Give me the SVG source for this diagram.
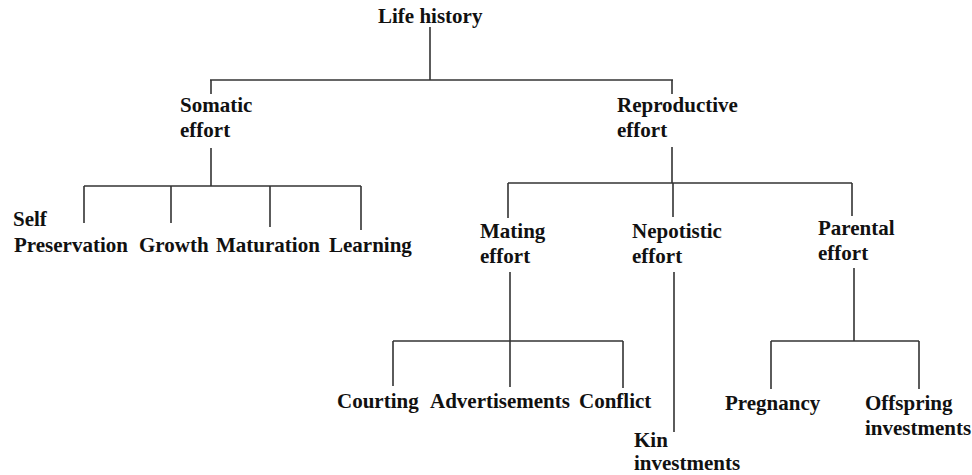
<svg xmlns="http://www.w3.org/2000/svg" width="972" height="475" viewBox="0 0 972 475">
<style>
.t{font-family:"Liberation Serif","Times New Roman",serif;font-weight:bold;font-size:21px;fill:#111}
.c line{stroke:#333;stroke-width:1.6}
</style>
<rect width="972" height="475" fill="#fff"/>
<g id="connectors" class="c">
<line x1="430" y1="27" x2="430" y2="80"/>
<line x1="210" y1="80" x2="673" y2="80"/>
<line x1="211" y1="80" x2="211" y2="94"/>
<line x1="672" y1="80" x2="672" y2="94"/>
<line x1="211" y1="148" x2="211" y2="186"/>
<line x1="84" y1="186" x2="361" y2="186"/>
<line x1="84" y1="186" x2="84" y2="223"/>
<line x1="171" y1="186" x2="171" y2="223"/>
<line x1="270" y1="186" x2="270" y2="227"/>
<line x1="361" y1="186" x2="361" y2="230"/>
<line x1="672" y1="147" x2="672" y2="183"/>
<line x1="508" y1="183" x2="852" y2="183"/>
<line x1="508" y1="183" x2="508" y2="218"/>
<line x1="673" y1="183" x2="673" y2="217"/>
<line x1="852" y1="183" x2="852" y2="216"/>
<line x1="510" y1="272" x2="510" y2="387"/>
<line x1="393" y1="341" x2="623" y2="341"/>
<line x1="393" y1="341" x2="393" y2="386"/>
<line x1="623" y1="341" x2="623" y2="388"/>
<line x1="674" y1="272" x2="674" y2="432"/>
<line x1="854" y1="268" x2="854" y2="341"/>
<line x1="771" y1="341" x2="919" y2="341"/>
<line x1="771" y1="341" x2="771" y2="389"/>
<line x1="919" y1="341" x2="919" y2="389"/>
</g>
<g id="life-history"><text class="t" x="378" y="23">Life history</text></g>
<g id="somatic-effort"><text class="t" x="180" y="112">Somatic</text><text class="t" x="180" y="137">effort</text></g>
<g id="reproductive-effort"><text class="t" x="617" y="112">Reproductive</text><text class="t" x="617" y="137">effort</text></g>
<g id="self-preservation"><text class="t" x="13" y="226">Self</text><text class="t" x="14" y="252">Preservation</text></g>
<g id="growth"><text class="t" x="139" y="252">Growth</text></g>
<g id="maturation"><text class="t" x="216" y="252">Maturation</text></g>
<g id="learning"><text class="t" x="329" y="252">Learning</text></g>
<g id="mating-effort"><text class="t" x="480" y="238">Mating</text><text class="t" x="480" y="263">effort</text></g>
<g id="nepotistic-effort"><text class="t" x="632" y="238">Nepotistic</text><text class="t" x="632" y="263">effort</text></g>
<g id="parental-effort"><text class="t" x="818" y="235">Parental</text><text class="t" x="818" y="260">effort</text></g>
<g id="courting"><text class="t" x="337" y="408">Courting</text></g>
<g id="advertisements"><text class="t" x="430" y="408">Advertisements</text></g>
<g id="conflict"><text class="t" x="579" y="408">Conflict</text></g>
<g id="kin-investments"><text class="t" x="634" y="447">Kin</text><text class="t" x="634" y="470">investments</text></g>
<g id="pregnancy"><text class="t" x="725" y="410">Pregnancy</text></g>
<g id="offspring-investments"><text class="t" x="865" y="410">Offspring</text><text class="t" x="865" y="435">investments</text></g>
</svg>
